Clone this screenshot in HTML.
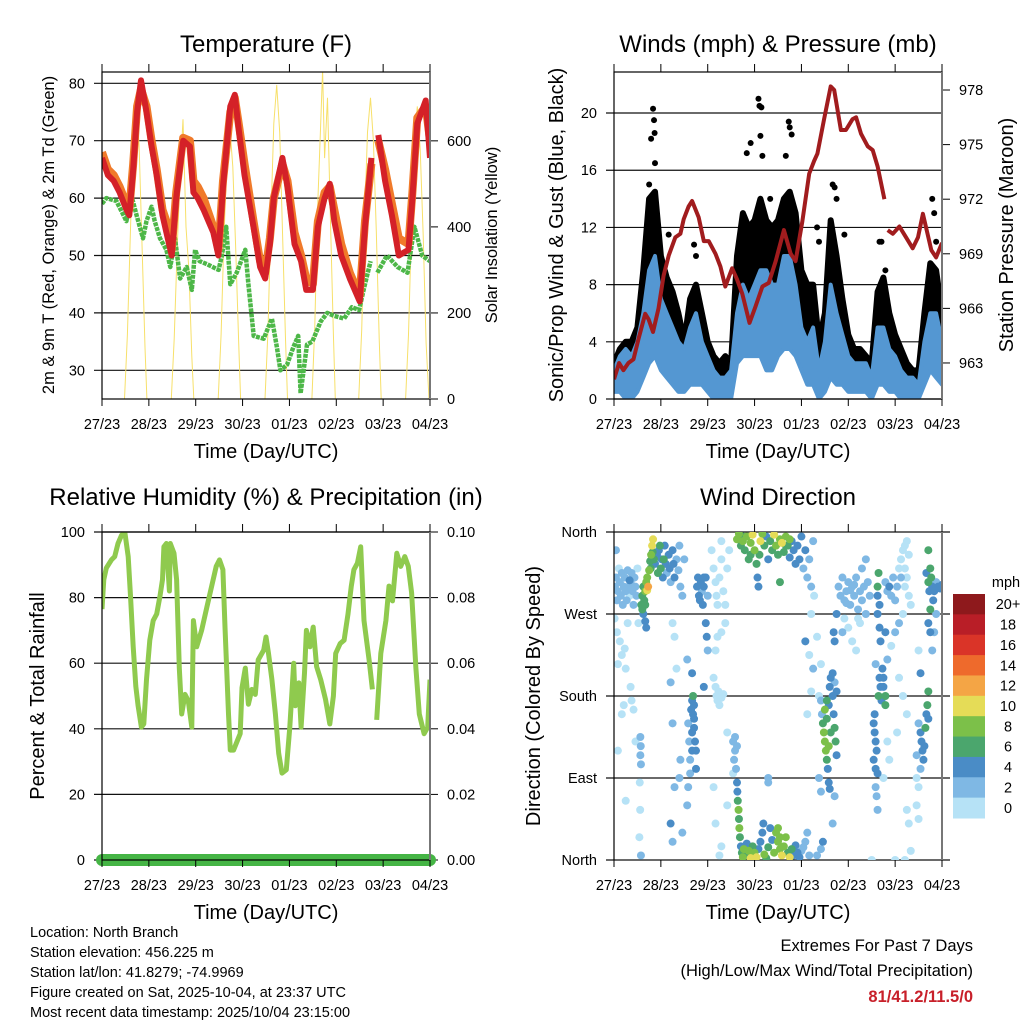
<!DOCTYPE html>
<html><head><meta charset="utf-8"><style>
html,body{margin:0;padding:0;background:#fff;}
svg{display:block;font-family:"Liberation Sans",sans-serif;}
</style></head><body>
<svg id="fig" width="1024" height="1024" viewBox="0 0 1024 1024">
<text x="266" y="52" font-size="24" text-anchor="middle">Temperature (F)</text>
<text x="778" y="52" font-size="24" text-anchor="middle">Winds (mph) &amp; Pressure (mb)</text>
<text x="266" y="505" font-size="24" text-anchor="middle">Relative Humidity (%) &amp; Precipitation (in)</text>
<text x="778" y="505" font-size="24" text-anchor="middle">Wind Direction</text>
<text transform="translate(54,235) rotate(-90)" font-size="16.5" text-anchor="middle">2m &amp; 9m T (Red, Orange) &amp; 2m Td (Green)</text>
<text transform="translate(497,235) rotate(-90)" font-size="16.5" text-anchor="middle">Solar Insolation (Yellow)</text>
<text transform="translate(563,235) rotate(-90)" font-size="20" text-anchor="middle">Sonic/Prop Wind &amp; Gust (Blue, Black)</text>
<text transform="translate(1013,235) rotate(-90)" font-size="20" text-anchor="middle">Station Pressure (Maroon)</text>
<text transform="translate(44,696) rotate(-90)" font-size="20" text-anchor="middle">Percent &amp; Total Rainfall</text>
<text transform="translate(540,696) rotate(-90)" font-size="20" text-anchor="middle">Direction (Colored By Speed)</text>
<text x="266" y="458" font-size="20" text-anchor="middle">Time (Day/UTC)</text>
<text x="778" y="458" font-size="20" text-anchor="middle">Time (Day/UTC)</text>
<text x="266" y="919" font-size="20" text-anchor="middle">Time (Day/UTC)</text>
<text x="778" y="919" font-size="20" text-anchor="middle">Time (Day/UTC)</text>
<g font-size="14.5">
<text x="30" y="937">Location: North Branch</text>
<text x="30" y="957">Station elevation: 456.225 m</text>
<text x="30" y="977">Station lat/lon: 41.8279; -74.9969</text>
<text x="30" y="997">Figure created on Sat, 2025-10-04, at 23:37 UTC</text>
<text x="30" y="1017">Most recent data timestamp: 2025/10/04 23:15:00</text>
</g>
<g font-size="16.5" text-anchor="end">
<text x="973" y="951">Extremes For Past 7 Days</text>
<text x="973" y="976">(High/Low/Max Wind/Total Precipitation)</text>
<text x="973" y="1002" fill="#c8202a" font-weight="bold">81/41.2/11.5/0</text>
</g>
<text x="1006" y="587" font-size="14.5" text-anchor="middle">mph</text>
</svg>
<script>
// ---------- DATA ----------
const dayLabels = ["27/23","28/23","29/23","30/23","01/23","02/23","03/23","04/23"];
const tempTicks = [30,40,50,60,70,80];
const solarTicks = [0,200,400,600];
const windTicks = [0,4,8,12,16,20];
const presTicks = [963,966,969,972,975,978];
const rhTicks = [0,20,40,60,80,100];
const rainTicks = [0,0.02,0.04,0.06,0.08,0.10];
const dirTicks = [0,90,180,270,360];
const dirLabels = ["North","East","South","West","North"];
const speedBins = ["0","2","4","6","8","10","12","14","16","18","20+"];
const speedColors = ["#b6e2f6","#7fb8e4","#4a8cc6","#4ba66d","#7cc049","#e5dc57","#f4a545","#ee6a2c","#da3428","#b91e27","#8e191c"];

const tempT = [0,3,6,9,12.5,14,16,18,20,22.8,25.4,28,31,33,35.7,38,41.6,45,46.8,49,52,57,59.6,62,65.7,68,70,73,77.6,81,83.6,86,88,92.4,95,98.6,102,104.6,108,110.6,114,116.7,119,122.5,126.9,132,134.7,138,139.5,141.5,145,148.5,152,157,159,161.5,165.8,168];
const tempRed = [67,64,63,61,58,57,65,75,80.5,75,69,64,57,54,50,60,70,69,61,60,58,54,50,62,76,78,72,64,55,48,46,52,60,67,62,52,49,44,44,55,60,62.5,56,50,46,42,55,67,null,71,63,57,50,51,60,73,77,67];
const tempOrange = [68,65,64,62,59,58,66,76,79,76,70,65,58,56,51,61,70.5,70,63,62,60,55,51,63,75,77.5,73,66,56,49,47,53,60,66,63,54,50,46,45,56,61,62,58,52,47,43,56,66,null,70,65,59,53,52,61,74,76,70];
const dewT = [0,2.2,7.4,12.5,15,17.7,21,22.8,25.4,27,29.7,33,35,37.4,40,43.4,46,47.7,50,53.7,59.7,61.4,63.6,65.7,69,73.4,75,77.7,82.8,87,89.6,91.4,94.8,98,100.5,101.7,105,107.7,112,115.4,118.8,124,128,131.7,134,137.6,139.3,141,146,151.4,156.5,160,164,168];
const dewV = [59,60,59.5,56,60.5,57,53,56,58.5,56,53,51,48,53,46,48,44,51,49,48.5,47.5,50,55,45,47,51,45,36,35.5,39,34,30,31,34,36,26,34.5,35,38.5,40,39.5,39,41,40.5,44,49,null,47,50,48,47,55,50,49];
const solarT = [11.5,13,14.5,16,17.5,19,20.5,22,23, 35.5,37,38.5,40,41.5,43,44.5,46,47, 59.5,61,62.5,64,65.5,67,68.5,70,71, 83.5,85,86.5,88,89.5,91,92.5,94,95, 107.5,109,110.5,112,113,114,115.5,117,118.5,119.5, 131.5,133,134.5,136,137.5,139,140.5,142,143, 155.5,157,158.5,160,161.5,163,164.5,166,167.5];
const solarV = [0,150,380,600,700,590,360,120,0, 0,140,350,520,650,400,300,100,0, 0,150,380,560,630,540,350,130,0, 0,160,420,640,730,620,380,140,0, 0,170,450,640,765,560,700,420,150,0, 0,160,420,620,700,600,390,140,0, 0,150,400,600,680,580,380,130,0];

const windT = [0,3,6,9,12,15,18,21,24,27,30,33,36,39,42,45,48,51,54,57,60,63,66,69,72,75,78,81,84,87,90,93,96,99,102,105,108,111,114,117,120,123,126,129,132,135,138,141,144,147,150,153,156,159,162,165,168];
const windLo = [0.5,0.5,0,0,0.5,1.5,2.5,3,2,1.5, 1,0.5,0.5,1,1,1,0.5,0,0,0, 0,2.5,3,3,3,3,2,2,3,3.5, 3.5,3,2,1,1,0,0.5,1.5,1,1, 0.5,0.5,0.5,0.5,0,1,1,0.5,0.5,0, 0,0,0,1,2,1.5,1];
const windHi = [2,3,3.5,3,4,6,9,10,7,6, 5,4,3.5,5,6,4,3,2,1.5,1.5, 2,6,8,7,8,9,9,8,8,10, 10,8,5,4,5,2,4,8,6,4.5, 3,2.5,2.5,2.5,1.5,5,5,3.5,3,2, 1.5,1.5,1,4,6,6,4];
const gustHi = [2.5,3.5,4,4,5,9,14,14.5,10,8.5, 7.5,6,4,7,8,6,4,3,2.5,3, 2.5,10,13,12,12.5,14,12.5,12,12.5,14, 14.5,13,9,8,8,4,6,12.5,10,7, 4.5,3.5,3.5,3,2.5,7.5,8.5,6,4.5,3.5, 2.5,2,2,6,9.5,9,6];
const gustOutT = [19,20,20.5,20.8,21,18,28,41,42,68,70,74,74.5,75,75.5,76,80,88,89.5,90,91,104,105,112,113,114,118,136,137,139,163,164,165];
const gustOutV = [18.2,20.3,19.5,18.6,16.5,15,11.5,10.8,10,17.2,17.9,21,20.5,18.4,20.4,17,14,17,19.4,19,18.5,12,11,15,14.8,14,11.5,11,11,9,14,13,11];
const presT = [0,2.6,4.8,7.4,10,12.5,16,17.7,20,22.8,25.4,28,31.4,34,35.7,38.2,40,43.4,46,48.5,52,54.5,57,60.5,63,65.7,69.4,72.5,76,79.3,82.8,87,90.5,93,96.5,100,102.5,104.2,107.6,111,112.8,116.2,118.8,122.2,124,126.5,130,132.5,135,138.5,139.5,140.2,142.8,146.2,149.6,153,155.7,158.2,162.5,165,168];
const presV = [962.1,963,962.6,963,963.2,964.3,965.7,965.4,964.7,966,967.8,968.9,969.9,970.1,970.9,971.6,971.9,971,969.7,969.7,969,968.3,967.2,968.2,967.6,966.8,965.2,966.1,967.2,967.4,968.6,970.3,969,968.6,970.8,973.4,974.1,974.5,976.4,978.2,978,975.8,975.8,976.4,976.5,975.6,974.9,974.7,973.8,972,null,970.3,970.1,970.5,969.9,969.3,969.9,971.2,969.2,968.8,969.6];

const rhT = [0,0.9,2.2,4.8,6.5,8.2,10,11.7,13.4,14.6,16,17.3,18.5,20.2,21.4,22.8,24.5,26.2,28,29.7,31,31.7,33,34.5,35,36.9,38.2,39.6,40.8,42.5,44.2,46,46.8,48.5,51,53.7,56.2,58.5,60.2,61.9,63,64.8,65.7,67.4,69.4,70.8,71.7,73.4,75,76.8,78.5,80,82.8,84,85.3,87,88.8,90.5,92.2,94.4,96.2,98.2,99,100.8,102,103.7,104.7,106.5,108.2,109.9,112,114.5,116.7,118.5,119.7,122,124,126,127.7,129,130.8,132.5,134.2,136.8,138.5,139.6,140.7,142.8,145.4,147,148.8,151,153,155.1,156.9,158.6,160.8,162.5,165,166.8,168];
const rhV = [76.5,85.5,89,91.5,92.5,96.5,99,100,92.5,80.5,65,53,47,40.5,41.5,55,67,73,75,80.5,85.5,95.5,96.5,82,96.5,93.5,85.5,58.5,44.5,50.5,48.5,40.5,73,65,70,77,83.5,89.5,91.5,88.5,71,44.5,33.5,33.5,36.5,38.5,52.5,58.5,47.5,52,50.5,61,64,68,63,55,44.5,32.5,26.5,27.5,40.5,60,47,54,40.5,57,70,65,71,59,55,49,41.5,50,63,66,67,75,83.5,88.5,90.5,95.5,73,61,52,null,42.7,63,73,83.5,79,93.5,89.5,92.5,89.5,81.5,58.5,44.5,38.5,40.5,55];
const rainT = [0,24,48,72,96,120,144,168];
const rainV = [0,0,0,0,0,0,0,0];

const windDirObs = [
[0.5,300,2],[1,310,2],[1.5,285,2],[2,295,2],[2.5,320,1],[3,305,2],[3.5,290,2],[4,315,2],[4.5,280,2],[5,300,3],[5.5,310,2],[6,295,2],[6.5,285,2],[7,318,2],[7.5,300,2],[8,290,1],[8.5,305,2],[9,315,2],[9.5,295,2],[10,280,2],[10.5,310,2],[11,300,2],[11.5,290,2],[12,320,1],[8,307,4],[1,340,2],
[0.3,265,0],[1.5,250,0],[3,240,0],[4,225,0],[5.5,232,0],[7,260,0],[2,215,0],[6,210,0],[8.5,190,0],[9,175,0],[10,165,0],[4,160,0],[5,170,0],[11,130,1],[12.5,260,0],[2,120,0],[6,65,0],
[13.5,135,2],[13.7,125,2],[13.5,115,2],[13.8,105,2],[13.2,85,1],[13.4,55,1],[13,25,1],[13.8,5,3],
[14,280,6],[14.5,290,6],[15,300,7],[15.5,285,6],[16,295,8],[16.5,305,8],[17,310,8],[17.5,300,12],[17,296,10],[18,318,8],[18.5,328,7],[19,335,8],[19.5,345,10],[20,352,10],[19.8,338,6],[18.8,320,6],[15,270,4],[16,262,4],[16.5,255,4],[20.5,330,7],[14.5,275,6],[16,280,7],
[21,325,4],[22,335,4],[22.5,315,6],[23,340,4],[24,320,6],[24.5,330,4],[25,310,4],[26,345,4],[26.5,325,4],[27,315,2],[28,335,4],[28.5,320,4],[29,305,2],[30,340,4],[30.5,325,4],[31,310,4],[32,330,2],[33,318,2],[33.5,345,2],[34,300,2],[35,290,2],[36,330,2],[30,260,0],[31,245,0],[32,210,0],[29,195,2],[30,150,2],[31,80,2],[29,40,4],[30,20,2],[33.5,90,2],[35,30,2],[34,110,2],[23.5,345,6],[25.5,330,6],
[38,150,2],[38.5,130,2],[39,110,2],[39.5,165,4],[40,175,4],[40.5,160,4],[41,145,4],[41.5,130,4],[42,120,4],[41,170,4],[40,140,4],[42,100,4],[40.5,180,6],[39,95,2],[38,80,2],[37.5,60,2],[37.5,220,2],[40,205,4],[41,155,4],[40,120,4],
[42.5,300,4],[43,310,4],[43.5,290,4],[44,285,4],[44.5,305,4],[45,295,2],[45.5,280,4],[46,300,4],[47,310,4],[48,290,2],[47,260,4],[47.5,245,4],[46,190,4],[48,230,2],[46,310,4],
[50,340,0],[51,320,0],[52,305,0],[52.5,290,0],[53,280,0],[54,310,0],[55,330,0],[56,295,0],[57,280,0],[58,320,0],[59,340,1],[55,350,0],[52,190,0],[52.5,180,0],[53,175,0],[53.5,185,0],[54,170,0],[55,178,0],[56,182,0],[51,200,0],[52,230,0],[53,245,0],[55,250,0],[57,260,0],[58,140,0],[51,80,0],[52,40,0],[55,15,0],[58,60,0],[54,5,0],
[61,130,2],[62,120,2],[61.5,110,2],[62.5,100,2],[61,95,0],[62,135,2],[63,125,2],[63,85,4],[63.2,75,4],[63.4,65,6],[63.8,55,8],[64,45,6],[64.2,35,8],[64.5,25,6],[65,15,4],[65.5,8,6],[66,3,8],[66.5,12,8],[67,5,6],[68,18,4],[69,10,8],[70,2,10],[71,15,6],[72,8,8],[73,3,10],[74,12,4],[75,20,4],[76,30,4],[76.5,40,4],[77,6,8],[78,2,6],[79,14,6],[80,35,4],[81,22,4],[82,8,8],[83,30,8],[84,20,8],[85,12,8],[86,5,10],[87,15,8],[88,25,8],[89,8,6],[90,3,10],[91,12,6],[92,5,4],[93,16,4],[94,8,4],[95,3,4],[96,10,2],[97,14,2],[98,20,2],[99,30,2],[100,5,2],[79,90,2],[79,85,2],[85,25,8],[84,35,8],
[63,352,8],[64,358,8],[65,345,6],[66,350,8],[67,340,6],[68,355,8],[69,330,6],[70,348,8],[71,357,10],[72,340,8],[73,325,6],[73.5,310,4],[74,300,4],[74.5,335,6],[75,350,10],[76,358,8],[77,345,6],[78,355,4],[79,330,4],[80,350,6],[81,340,6],[82,357,10],[83,345,8],[84,335,6],[85,352,8],[86,348,10],[87,338,6],[88,355,8],[89,345,6],[90,332,4],[91,350,4],[92,340,4],[93,325,4],[94,345,4],[95,330,4],[96,355,4],[97,320,2],[98,340,4],[99,310,2],[100,330,2],[101,300,2],[102,350,2],[102.5,290,0],[101,270,0],[100,225,0],[102,210,2],[101,185,0],[99,160,0],[98,240,4],[85,305,6],[66,355,6],[70,335,6],[88,345,6],[90,352,8],
[105,180,0],[106,175,2],[106.5,160,2],[107,150,6],[107.5,140,8],[108,130,8],[108.5,120,8],[109,110,6],[109.5,100,4],[108,165,8],[109,155,6],[110,170,4],[110.5,190,4],[111,200,4],[112,180,4],[112.5,160,4],[113,145,6],[113.5,130,6],[114,115,4],[111,140,6],[110,125,8],[109,175,6],[112,205,4],[113,195,2],[114,185,4],[106,215,0],[105,90,2],[106,75,2],[110,85,4],[110.5,78,4],[113,240,4],[112.5,250,4],[114,270,4],[104,245,0],[104,5,2],[106,12,2],[107,20,4],[112,40,2],[113,70,2],
[115,300,2],[116,290,2],[117,310,2],[118,285,2],[119,295,2],[120,305,2],[121,280,2],[122,300,2],[123,290,2],[124,310,2],[125,275,2],[126,295,2],[127,285,2],[128,300,2],[129,270,2],[130,305,2],[131,290,2],[118,265,0],[120,255,0],[122,240,0],[124,230,0],[126,260,0],[127,320,2],[129,330,2],[125,265,0],[117,250,2],[119,282,2],[121,296,2],[123,302,2],
[133,150,4],[133.5,140,4],[134,130,4],[134.5,120,4],[133,110,4],[134,100,4],[135,95,4],[133.5,160,4],[135.5,180,6],[136,200,4],[136.5,190,4],[137,175,4],[137.5,210,4],[138,200,4],[139,180,6],[139,170,6],[138,190,4],[135,300,6],[135.5,315,6],[135,290,4],[136,280,4],[135,270,4],[136,255,4],[136.5,240,4],[134,215,2],[134,80,2],[134.5,70,2],[135,55,2],[138,90,0],
[139,305,2],[140,295,2],[141,300,4],[142,290,2],[143,310,2],[144,285,2],[145,300,2],[146,320,0],[147,330,0],[148,340,0],[149,345,0],[150,350,0],[151,335,0],[149,300,0],[150,310,0],[151,290,0],[152,280,0],[148,270,0],[146,260,2],[144,250,2],[142,235,0],[140,220,2],[146,200,0],[148,180,0],[150,160,0],[145,140,0],[140,130,0],[141,110,0],[150,55,0],[151,40,0],[152,10,0],[149,0,0],[144,0,0],[132,0,0],[139,250,4],[147,310,2],[149,320,0],
[156,150,2],[157,140,4],[157.5,130,4],[158,120,4],[158.5,110,4],[159,125,4],[159.5,145,6],[160,160,4],[160.5,170,6],[161,155,4],[157,100,2],[155,115,2],[155,90,0],[156,80,0],[155,60,0],[156,45,0],[157,205,4],[161,185,6],[156,230,0],
[160,315,4],[161,305,6],[161.5,295,4],[162,320,6],[162.5,310,6],[163,300,4],[163.5,285,4],[164,295,4],[165,305,2],[166,300,4],[167,298,4],[168,302,4],[162,275,6],[161,260,4],[162,250,4],[163,230,2],[161,340,6],[164,250,2],[165,270,2]
];

// ---------- HELPERS ----------
const NS = "http://www.w3.org/2000/svg";
const svg = document.getElementById("fig");
function mk(tag, attrs, parent){
  const e = document.createElementNS(NS, tag);
  for (const k in attrs) e.setAttribute(k, attrs[k]);
  (parent||svg).appendChild(e);
  return e;
}
function panel(x0,x1,y0,y1,id){
  const p = {x0,x1,y0,y1};
  p.tx = t => x0 + t/168*(x1-x0);
  const cp = mk("clipPath",{id:"clip"+id});
  mk("rect",{x:x0,y:y0,width:x1-x0,height:y1-y0},cp);
  return p;
}
function sc(p,lo,hi){ return v => p.y1 - (v-lo)/(hi-lo)*(p.y1-p.y0); }
function pathD(p, ts, vs, ys){
  let d = "", pen = false;
  for (let i=0;i<ts.length;i++){
    if (vs[i]===null){ pen=false; continue; }
    d += (pen?"L":"M") + p.tx(ts[i]).toFixed(1) + " " + ys(vs[i]).toFixed(1);
    pen = true;
  }
  return d;
}
function xAxis(p, g){
  dayLabels.forEach((lab,i)=>{
    const x = p.tx(i*24);
    const tk = mk("line",{x1:x,x2:x,y1:p.y1,y2:p.y1+7,stroke:"#000","stroke-width":1},g);
    
    
    const tk2 = mk("line",{x1:x,x2:x,y1:p.y0,y2:p.y0-8,stroke:"#000","stroke-width":1},g);
    
    
    const t = mk("text",{x:x,y:p.y1+30,"font-size":14.5,"text-anchor":"middle"},g);
    t.textContent = lab;
    
    
  });
}
function grid(p, g, vals, ys, fmt, side){
  vals.forEach(v=>{
    const y = ys(v);
    const l = mk("line",{x1:side==="left"?p.x0-8:p.x0,x2:side==="left"?p.x1:p.x1+8,y1:y,y2:y,stroke:"#111","stroke-width":1.2},g);
    
    
    const t = mk("text",{x:side==="left"?p.x0-17:p.x1+17,y:y+5,"font-size":14.5,"text-anchor":side==="left"?"end":"start"},g);
    t.textContent = fmt(v);
    
    
  });
}
function rightTicks(p,g,vals,ys,fmt){
  vals.forEach(v=>{
    const y = ys(v);
    const l = mk("line",{x1:p.x1,x2:p.x1+8,y1:y,y2:y,stroke:"#000","stroke-width":1},g);
    
    
    const t = mk("text",{x:p.x1+17,y:y+5,"font-size":14.5},g);
    t.textContent = fmt(v);
    
    
  });
}
function frame(p,g,rightGray){
  const r = mk("rect",{x:p.x0,y:p.y0,width:p.x1-p.x0,height:p.y1-p.y0,fill:"none",stroke:"#000","stroke-width":1.2},g);
  
  
  if (rightGray){
    const l = mk("line",{x1:p.x1,x2:p.x1,y1:p.y0,y2:p.y1,stroke:"#777","stroke-width":2},g);
    
    
  }
}

// ---------- PANEL 1: TEMPERATURE ----------
const P1 = panel(102,430,72,399,1);
const g1 = mk("g",{});


const yT = sc(P1,25,81.97), yS = sc(P1,0,760);
grid(P1,g1,tempTicks,yT,v=>v,"left");
rightTicks(P1,g1,solarTicks,yS,v=>v);
const d1 = mk("g",{"clip-path":"url(#clip1)"},g1);


const sol = mk("path",{d:pathD(P1,solarT,solarV,yS),fill:"none",stroke:"#f7e06a","stroke-width":1},d1);


const dew = mk("path",{d:pathD(P1,dewT,dewV,yT),fill:"none",stroke:"#4db748","stroke-width":4.5,"stroke-dasharray":"4 1","stroke-linejoin":"round"},d1);


const org = mk("path",{d:pathD(P1,tempT,tempOrange,yT),fill:"none",stroke:"#f07a2a","stroke-width":8,"stroke-linejoin":"round"},d1);


const red = mk("path",{d:pathD(P1,tempT,tempRed,yT),fill:"none",stroke:"#d42128","stroke-width":6,"stroke-linejoin":"round"},d1);


frame(P1,g1,true);
xAxis(P1,g1);

// ---------- PANEL 2: WINDS ----------
const P2 = panel(614,942,72,399,2);
const g2 = mk("g",{});


const yW = sc(P2,0,22.87), yP = sc(P2,961.02,978.99);
grid(P2,g2,windTicks,yW,v=>v,"left");
rightTicks(P2,g2,presTicks,yP,v=>v);
const d2 = mk("g",{"clip-path":"url(#clip2)"},g2);


function band(ts,lo,hi,ys){
  let d="M";
  for(let i=0;i<ts.length;i++) d += P2.tx(ts[i]).toFixed(1)+" "+ys(hi[i]).toFixed(1)+" L";
  for(let i=ts.length-1;i>=0;i--) d += P2.tx(ts[i]).toFixed(1)+" "+ys(lo[i]).toFixed(1)+(i?" L":" Z");
  return d;
}
const gb = mk("path",{d:band(windT,windHi,gustHi,yW),fill:"#000",stroke:"#000","stroke-width":6,"stroke-linejoin":"round"},d2);


gustOutT.forEach((t,i)=>{
  const c = mk("circle",{cx:P2.tx(t),cy:yW(gustOutV[i]),r:3,fill:"#000"},d2);
  
  
});
const wb = mk("path",{d:band(windT,windLo,windHi,yW),fill:"#5497d2",stroke:"#5497d2","stroke-width":4,"stroke-linejoin":"round"},d2);


const pr = mk("path",{d:pathD(P2,presT,presV,yP),fill:"none",stroke:"#a11c1e","stroke-width":4,"stroke-linejoin":"round"},d2);


frame(P2,g2,true);
xAxis(P2,g2);

// ---------- PANEL 3: RH ----------
const P3 = panel(102,430,532,860,3);
const g3 = mk("g",{});


const yR = sc(P3,0,100), yRain = sc(P3,0,0.1);
grid(P3,g3,rhTicks,yR,v=>v,"left");
rightTicks(P3,g3,rainTicks,yRain,v=>v.toFixed(2));
const d3 = mk("g",{},g3);


const rh = mk("path",{d:pathD(P3,rhT,rhV,yR),fill:"none",stroke:"#8fca4e","stroke-width":5,"stroke-linejoin":"round","clip-path":"url(#clip3)"},d3);


const rn = mk("path",{d:pathD(P3,rainT,rainV,yRain),fill:"none",stroke:"#45b545","stroke-width":12,"stroke-linecap":"round"},d3);


frame(P3,g3,true);
xAxis(P3,g3);

// ---------- PANEL 4: WIND DIRECTION ----------
const P4 = panel(614,942,532,860,4);
const g4 = mk("g",{});


const yD = sc(P4,0,360);
dirTicks.forEach((v,i)=>{
  const y = yD(v);
  const l = mk("line",{x1:P4.x0-8,x2:P4.x1+8,y1:y,y2:y,stroke:"#111","stroke-width":1.2},g4);
  
  
  const t = mk("text",{x:P4.x0-17,y:y+5,"font-size":14.5,"text-anchor":"end"},g4);
  t.textContent = dirLabels[i];
  
  
});
const d4 = mk("g",{"clip-path":"url(#clip4)"},g4);


function binOf(s){ return Math.min(10, Math.floor(s/2)); }
const order = windDirObs.slice().sort((a,b)=>a[2]-b[2]);
order.forEach(o=>{
  const c = mk("circle",{cx:P4.tx(o[0]),cy:yD(o[1]),r:4,fill:speedColors[binOf(o[2])]},d4);
  
  
});
const l4 = mk("line",{x1:P4.x0,x2:P4.x0,y1:P4.y0,y2:P4.y1,stroke:"#000","stroke-width":1.2},g4);


const r4 = mk("line",{x1:P4.x1,x2:P4.x1,y1:P4.y0,y2:P4.y1,stroke:"#777","stroke-width":2},g4);


xAxis(P4,g4);

// colorbar
const cb = mk("g",{});


const cbTop = 594, cbH = 224/speedBins.length;
speedBins.forEach((lab,i)=>{
  const k = speedBins.length-1-i;
  const r = mk("rect",{x:953,y:cbTop+i*cbH,width:32,height:cbH+0.5,fill:speedColors[k]},cb);
  
  
  const t = mk("text",{x:1008,y:cbTop+i*cbH+cbH/2+5,"font-size":14.5,"text-anchor":"middle"},cb);
  t.textContent = speedBins[k];
  
  
});
</script>
</body></html>
